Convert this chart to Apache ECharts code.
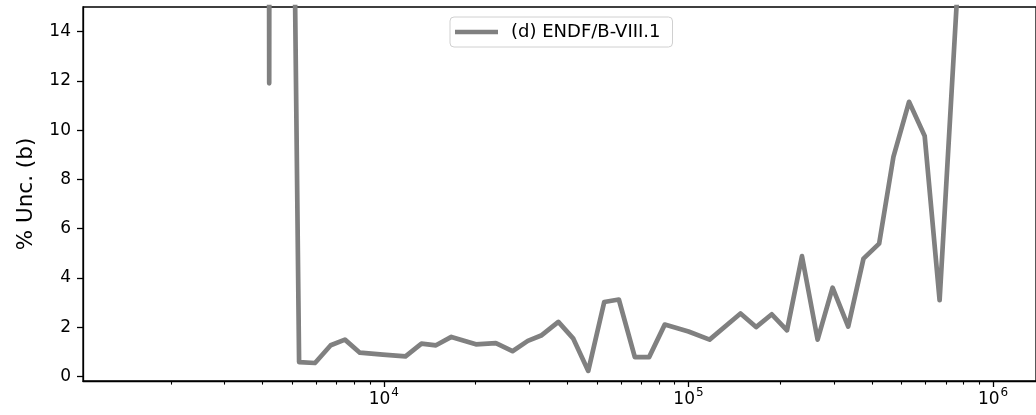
<!DOCTYPE html>
<html><head><meta charset="utf-8">
<script src="https://cdn.jsdelivr.net/npm/echarts@6/dist/echarts.min.js"></script>
<style>html,body{margin:0;padding:0;background:#fff}#c{width:1036px;height:415px}</style>
</head><body><div id="c"></div>
<script>
const energies = [1100, 1500, 2000, 2600, 3200, 3700, 4100, 4204, 4300, 4700, 5000,
  5270, 5943, 6692, 7452, 8342, 9925, 11780, 13290, 14830, 16660, 20050, 23320, 26440,
  29690, 32990, 37400, 41880, 46880, 52900, 59080, 66670, 74270, 83580, 100000, 117300,
  148200, 166700, 187700, 210600, 235800, 265400, 297200, 334500, 375400, 422600, 470700,
  529700, 596200, 667400, 853000, 1000000, 1200000];
const uncertainty = [40, 55, 35, 48, 30, 60, 120, 11.9, 150, 90, 26,
  0.58, 0.54, 1.26, 1.49, 0.96, 0.88, 0.81, 1.33, 1.26, 1.60, 1.30, 1.35, 1.02,
  1.44, 1.67, 2.21, 1.53, 0.22, 3.02, 3.12, 0.78, 0.78, 2.10, 1.82, 1.49,
  2.55, 2.00, 2.52, 1.87, 4.88, 1.49, 3.60, 2.02, 4.78, 5.39, 8.91,
  11.15, 9.76, 3.09, 26, 35, 45];
const yTicks = [0, 2, 4, 6, 8, 10, 12, 14];
const xMajorTicks = [1e4, 1e5, 1e6];
const xMinorTicks = [2000, 3000, 4000, 5000, 6000, 7000, 8000, 9000,
  20000, 30000, 40000, 50000, 60000, 70000, 80000, 90000,
  200000, 300000, 400000, 500000, 600000, 700000, 800000, 900000];
const seriesName = '(d) ENDF/B-VIII.1';
const yAxisTitle = '% Unc. (b)';

const FONT = 'DejaVu Sans';
const chart = echarts.init(document.getElementById('c'), null, {renderer: 'canvas'});
const xRange = {min: 1029, max: 1.383e6};
chart.setOption({
  animation: false,
  backgroundColor: '#fff',
  grid: {left: 83, top: 7, right: -3, bottom: 34, show: true, borderColor: '#000', borderWidth: 1.3, backgroundColor: 'transparent'},
  legend: {
    show: true, left: 450, top: 17,
    padding: [6, 12, 6, 5],
    borderColor: '#d0d0d0', borderWidth: 1, borderRadius: 4,
    backgroundColor: 'rgba(255,255,255,0.8)',
    icon: 'rect', itemWidth: 43, itemHeight: 4.5,
    textStyle: {fontFamily: FONT, fontSize: 18, color: '#000', padding: [0, 0, 0, 8]},
    data: [seriesName]
  },
  xAxis: [{
    type: 'log', min: xRange.min, max: xRange.max, logBase: 10,
    position: 'bottom',
    axisLine: {show: true, onZero: false, lineStyle: {color: '#000', width: 1.3}},
    axisTick: {show: true, inside: false, length: 6, lineStyle: {color: '#000', width: 1.3}, customValues: xMajorTicks},
    axisLabel: {
      show: true, margin: 6, customValues: xMajorTicks,
      formatter: v => '{b|10}{s|' + Math.round(Math.log10(v)) + '}',
      rich: {
        b: {fontFamily: FONT, fontSize: 17, color: '#000', verticalAlign: 'bottom', padding: [0, 0, 0, 0]},
        s: {fontFamily: FONT, fontSize: 12, color: '#000', verticalAlign: 'bottom', padding: [0, 0, 9, 1]}
      }
    },
    splitLine: {show: false}, minorTick: {show: false}
  }, {
    type: 'log', min: xRange.min, max: xRange.max, logBase: 10,
    position: 'bottom',
    axisLine: {show: false, onZero: false},
    axisTick: {show: true, inside: false, length: 3.6, lineStyle: {color: '#000', width: 1.1}, customValues: xMinorTicks},
    axisLabel: {show: false},
    splitLine: {show: false}
  }],
  yAxis: {
    type: 'value', min: -0.19, max: 15,
    name: yAxisTitle, nameLocation: 'middle', nameGap: 46,
    nameTextStyle: {fontFamily: FONT, fontSize: 21.5, color: '#000'},
    axisLine: {show: true, onZero: false, lineStyle: {color: '#000', width: 1.3}},
    axisTick: {show: true, inside: false, length: 6, lineStyle: {color: '#000', width: 1.3}, customValues: yTicks},
    axisLabel: {show: true, margin: 12, customValues: yTicks, fontFamily: FONT, fontSize: 17, color: '#000'},
    splitLine: {show: false}
  },
  series: [{
    name: seriesName, type: 'line', xAxisIndex: 0,
    data: energies.map((e, i) => [e, uncertainty[i]]),
    showSymbol: false, symbol: 'none', clip: true,
    color: '#808080',
    lineStyle: {color: '#808080', width: 4.7, join: 'round', cap: 'round'},
    itemStyle: {color: '#808080'}
  }]
});
</script></body></html>
